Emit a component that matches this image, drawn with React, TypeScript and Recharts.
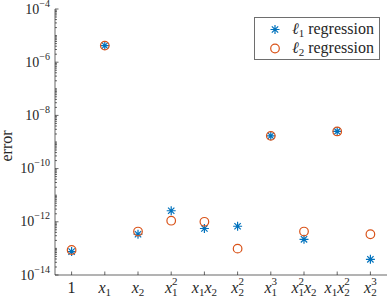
import { ScatterChart, Scatter, XAxis, YAxis, Legend } from "recharts";

const terms = ["1", "x_1", "x_2", "x_1^2", "x_1x_2", "x_2^2", "x_1^3", "x_1^2x_2", "x_1x_2^2", "x_2^3"];

const l1Errors = [7.6e-14, 4.2e-6, 3.4e-13, 2.6e-12, 5.6e-13, 6.8e-13, 1.7e-9, 2.2e-13, 2.5e-9, 3.9e-14];
const l2Errors = [8.7e-14, 4.2e-6, 4.3e-13, 1.1e-12, 1.0e-12, 9.8e-14, 1.7e-9, 4.3e-13, 2.5e-9, 3.4e-13];

const majorTicks = [1e-14, 1e-12, 1e-10, 1e-8, 1e-6, 1e-4];
const majorExponents = [-14, -12, -10, -8, -6, -4];

// minor log ticks 2..9 x 10^e, plus the odd decades
const minorTicks: number[] = [];
for (let e = -14; e < -4; e++) {
  for (let k = 1; k < 10; k++) {
    if (!(k === 1 && e % 2 === 0)) minorTicks.push(k * Math.pow(10, e));
  }
}
const yTicks = [...majorTicks, ...minorTicks].sort((a, b) => a - b);
const xTicks = terms.map((_, i) => i + 1);

const l1Data = terms.map((t, i) => ({ pos: i + 1, err: l1Errors[i], term: t }));
const l2Data = terms.map((t, i) => ({ pos: i + 1, err: l2Errors[i], term: t }));

const AXIS = "#262626";
const BLUE = "#0072BD";
const ORANGE = "#D95319";
const SERIF = "'Liberation Serif', 'DejaVu Serif', serif";
const BIG = 16;
const SMALL = 11;

function renderTerm(term: string) {
  const parts: any[] = [];
  const re = /x_(\d)(?:\^(\d))?|(\d)/g;
  let m: RegExpExecArray | null;
  let cur = 0;
  let k = 0;
  const shift = (target: number) => {
    const d = target - cur;
    cur = target;
    return d;
  };
  while ((m = re.exec(term))) {
    if (m[3]) {
      parts.push(<tspan key={k++} fontSize={BIG} dy={shift(0)}>{m[3]}</tspan>);
      continue;
    }
    parts.push(<tspan key={k++} fontSize={BIG} fontStyle="italic" dy={shift(0)}>x</tspan>);
    if (m[2]) {
      parts.push(<tspan key={k++} fontSize={SMALL} dy={shift(-8)}>{m[2]}</tspan>);
      parts.push(<tspan key={k++} fontSize={SMALL} dx={-5.5} dy={shift(3)}>{m[1]}</tspan>);
    } else {
      parts.push(<tspan key={k++} fontSize={SMALL} dy={shift(3)}>{m[1]}</tspan>);
    }
  }
  return parts;
}

function BottomTick(props: any) {
  const { x, y, payload } = props;
  return (
    <g>
      <line x1={x} x2={x} y1={y} y2={y - 3.5} stroke={AXIS} strokeWidth={0.7} />
      <text x={x} y={y + 18} textAnchor="middle" fill={AXIS} fontFamily={SERIF}>
        {renderTerm(terms[payload.value - 1])}
      </text>
    </g>
  );
}

function TopTick(props: any) {
  const { x, y } = props;
  return <line x1={x} x2={x} y1={y} y2={y + 3.5} stroke={AXIS} strokeWidth={0.7} />;
}

function LeftTick(props: any) {
  const { x, y, payload } = props;
  const i = majorTicks.indexOf(payload.value);
  return (
    <g>
      <line x1={x} x2={x + (i >= 0 ? 3.5 : 2)} y1={y} y2={y} stroke={AXIS} strokeWidth={0.7} />
      {i >= 0 && (
        <text x={x - 5} y={y + 4.5} textAnchor="end" fill={AXIS} fontFamily={SERIF}>
          <tspan fontSize={14}>10</tspan>
          <tspan fontSize={10} dy={-7}>{"\u2212" + Math.abs(majorExponents[i])}</tspan>
        </text>
      )}
    </g>
  );
}

function RightTick(props: any) {
  const { x, y, payload } = props;
  const major = majorTicks.includes(payload.value);
  return <line x1={x} x2={x - (major ? 3.5 : 2)} y1={y} y2={y} stroke={AXIS} strokeWidth={0.7} />;
}

function Asterisk(props: any) {
  const { cx, cy } = props;
  const r = 4.5;
  const d = r * 0.7071;
  return (
    <path
      d={`M${cx - r},${cy}L${cx + r},${cy}M${cx},${cy - r}L${cx},${cy + r}M${cx - d},${cy - d}L${cx + d},${cy + d}M${cx - d},${cy + d}L${cx + d},${cy - d}`}
      stroke={BLUE}
      strokeWidth={1.2}
      fill="none"
    />
  );
}

function Ring(props: any) {
  const { cx, cy } = props;
  return <circle cx={cx} cy={cy} r={4.3} stroke={ORANGE} strokeWidth={1.2} fill="none" />;
}

function YLabel(props: any) {
  const { viewBox } = props;
  const cx = viewBox.x + 12;
  const cy = viewBox.y + viewBox.height / 2 + 4;
  return (
    <text x={cx} y={cy} transform={`rotate(-90 ${cx} ${cy})`} textAnchor="middle" fill={AXIS} fontFamily={SERIF} fontSize={BIG}>
      error
    </text>
  );
}

function LegendBox() {
  const row = (marker: any, sub: string) => (
    <div style={{ display: "flex", alignItems: "center", height: 19 }}>
      <svg width={37} height={19} style={{ flex: "none" }}>
        {marker}
      </svg>
      <span style={{ whiteSpace: "nowrap" }}>
        <i>ℓ</i>
        <span style={{ fontSize: SMALL, position: "relative", top: 3 }}>{sub}</span> regression
      </span>
    </div>
  );
  return (
    <div
      style={{
        boxSizing: "border-box",
        width: 126,
        height: 43,
        border: "1px solid #6e6e6e",
        background: "#fff",
        fontFamily: SERIF,
        fontSize: BIG,
        color: AXIS,
        padding: "2px 0",
        lineHeight: "19px",
      }}
    >
      {row(<Asterisk cx={20} cy={9.5} />, "1")}
      {row(<Ring cx={20} cy={9.5} />, "2")}
    </div>
  );
}

export default function App() {
  return (
    <div style={{ position: "absolute", left: 0, top: 0, width: 390, height: 297, background: "#fff" }}>
      <ScatterChart width={390} height={297} margin={{ top: 9, right: 3, bottom: 0, left: 0 }}>
        <XAxis
          xAxisId={0}
          type="number"
          dataKey="pos"
          domain={[0.5, 10.5]}
          ticks={xTicks}
          interval={0}
          height={22}
          tickSize={0}
          tickMargin={0}
          tickLine={false}
          tick={BottomTick}
          stroke={AXIS}
          strokeWidth={0.7}
        />
        <XAxis
          xAxisId="top"
          orientation="top"
          type="number"
          domain={[0.5, 10.5]}
          ticks={xTicks}
          interval={0}
          height={0}
          tickSize={0}
          tickMargin={0}
          tickLine={false}
          tick={TopTick}
          stroke={AXIS}
          strokeWidth={0.7}
        />
        <YAxis
          yAxisId={0}
          type="number"
          dataKey="err"
          scale="log"
          domain={[1e-14, 1e-4]}
          allowDataOverflow
          ticks={yTicks}
          interval={0}
          width={55}
          tickSize={0}
          tickMargin={0}
          tickLine={false}
          tick={LeftTick}
          stroke={AXIS}
          strokeWidth={0.7}
          label={YLabel}
        />
        <YAxis
          yAxisId="right"
          orientation="right"
          type="number"
          scale="log"
          domain={[1e-14, 1e-4]}
          allowDataOverflow
          ticks={yTicks}
          interval={0}
          width={0}
          tickSize={0}
          tickMargin={0}
          tickLine={false}
          tick={RightTick}
          stroke={AXIS}
          strokeWidth={0.7}
        />
        <Legend
          layout="vertical"
          verticalAlign="middle"
          align="center"
          wrapperStyle={{ left: 254, top: 17, width: 126, height: 43 }}
          content={LegendBox}
        />
        <Scatter name="l1" data={l1Data} shape={Asterisk} isAnimationActive={false} />
        <Scatter name="l2" data={l2Data} shape={Ring} isAnimationActive={false} />
      </ScatterChart>
    </div>
  );
}
